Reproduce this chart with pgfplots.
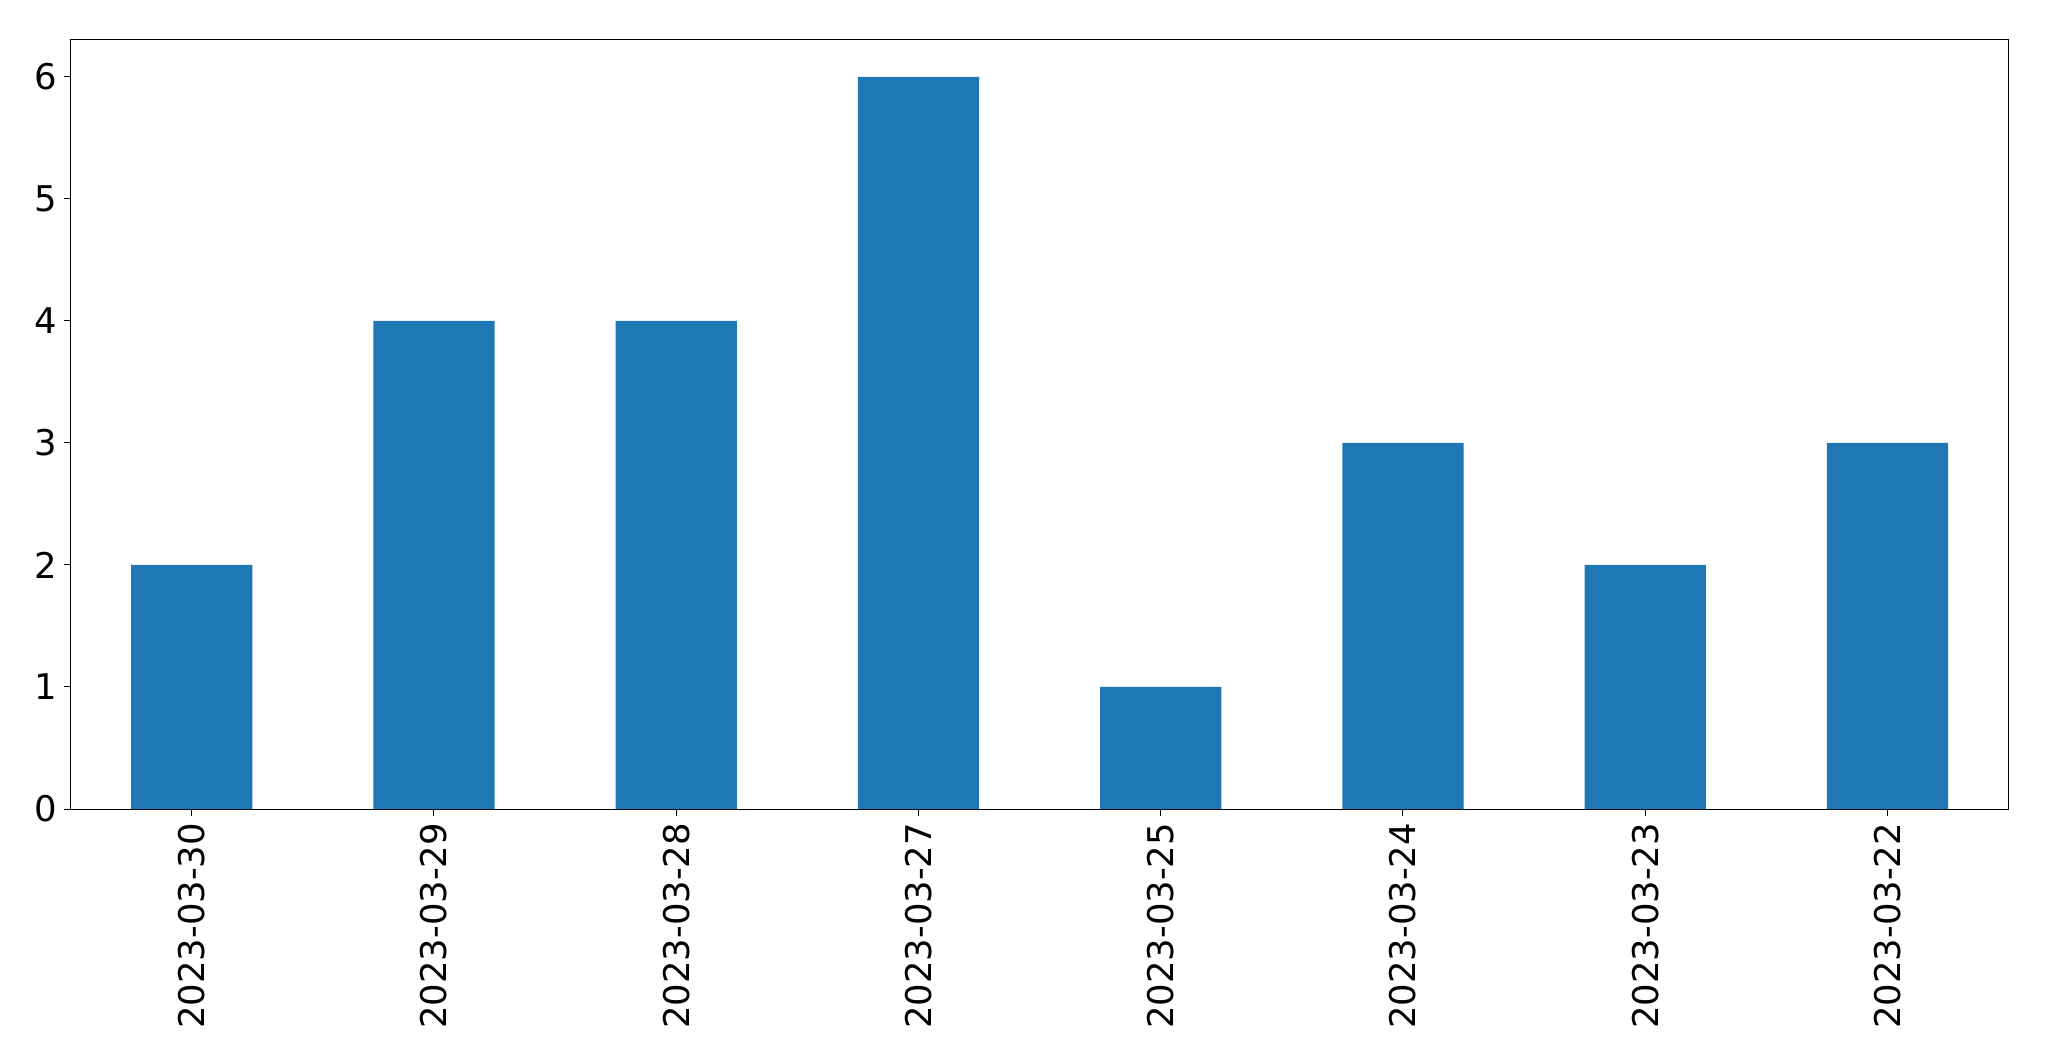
\documentclass[border=0pt]{standalone}
\usepackage{pgfplots}
\pgfplotsset{compat=1.18}
\usepackage{fontspec}
\setmainfont{DejaVu Sans}
\definecolor{mplblue}{HTML}{1F77B4}
\begin{document}
\begin{tikzpicture}
\begin{axis}[
  scale only axis,
  width=969pt, height=385pt,
  xmin=-0.5, xmax=7.5, ymin=0, ymax=6.31,
  xtick={0,...,7},
  xticklabels={2023-03-30,2023-03-29,2023-03-28,2023-03-27,2023-03-25,2023-03-24,2023-03-23,2023-03-22},
  xticklabel style={rotate=90, anchor=east},
  ytick={0,1,2,3,4,5,6},
  tick label style={font=\fontsize{17.7}{21}\selectfont},
  /pgf/number format/assume math mode=true,
  tick align=outside, tick pos=left,
  major tick length=3.5pt,
  every tick/.style={black, line width=0.5pt},
  axis line style={line width=0.5pt},
  clip=false,
]
\addplot[ybar, bar width=0.5, fill=mplblue, draw=none, bar shift=0pt] coordinates {
(0,2) (1,4) (2,4) (3,6) (4,1) (5,3) (6,2) (7,3)
};
\end{axis}
\path (-35.3pt,-126pt) rectangle (989.2pt,404.5pt);
\end{tikzpicture}
\end{document}
